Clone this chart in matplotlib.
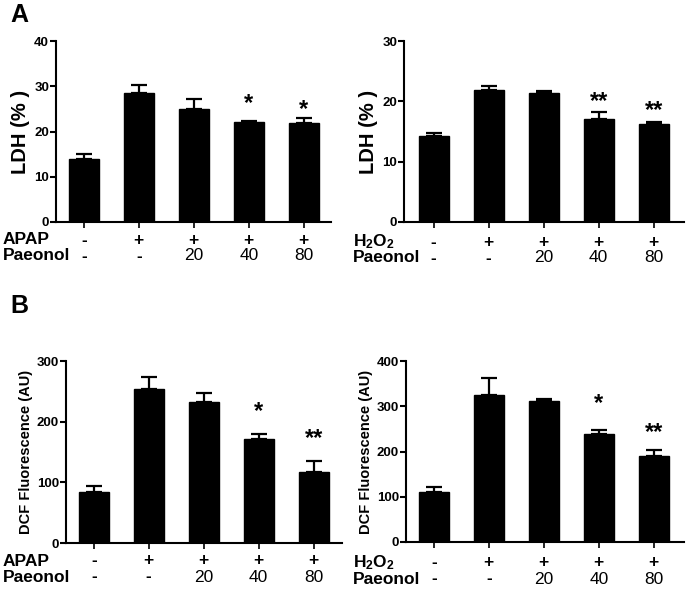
import matplotlib
matplotlib.use("Agg")
import matplotlib.pyplot as plt
import matplotlib.transforms as mtransforms
import numpy as np

plt.rcParams['font.family'] = ['Liberation Sans', 'DejaVu Sans']
plt.rcParams['mathtext.fontset'] = 'custom'
plt.rcParams['mathtext.rm'] = 'Liberation Sans:bold'
plt.rcParams['mathtext.bf'] = 'Liberation Sans:bold'
plt.rcParams['mathtext.it'] = 'Liberation Sans:bold:italic'

# ---- data ----
groups = ["1", "2", "3", "4", "5"]
inducer_row = ["-", "+", "+", "+", "+"]
paeonol_row = ["-", "-", "20", "40", "80"]

ldh_apap = [14.0, 28.6, 24.9, 22.1, 21.8]
ldh_apap_err = [1.0, 1.6, 2.3, 0.3, 1.1]
ldh_apap_sig = ["", "", "", "*", "*"]
ldh_apap_sig_y = [0, 0, 0, 27.1, 25.8]

ldh_h2o2 = [14.2, 21.9, 21.3, 17.1, 16.3]
ldh_h2o2_err = [0.5, 0.7, 0.45, 1.2, 0.35]
ldh_h2o2_sig = ["", "", "", "**", "**"]
ldh_h2o2_sig_y = [0, 0, 0, 20.6, 19.1]

dcf_apap = [84, 254, 232, 172, 117]
dcf_apap_err = [10, 20, 16, 8, 18]
dcf_apap_sig = ["", "", "", "*", "**"]
dcf_apap_sig_y = [0, 0, 0, 223, 178]

dcf_h2o2 = [111, 325, 312, 239, 191]
dcf_h2o2_err = [11, 37, 5, 8, 12]
dcf_h2o2_sig = ["", "", "", "*", "**"]
dcf_h2o2_sig_y = [0, 0, 0, 314, 250]

W, H = 686, 591
fig = plt.figure(figsize=(W / 100, H / 100), dpi=100)

STAR_FS = 17
ROW_FS = 12.5


def add_ax(l, r, t, b):
    return fig.add_axes([l / W, 1 - b / H, (r - l) / W, (b - t) / H])


def panel(ax, vals, errs, sig, sig_y, ymax, ystep, ylabel, ylab_size, xlim,
          inducer_name, name_x, row_y):
    x = np.arange(len(vals))
    ax.bar(x, vals, width=0.545, color='black', edgecolor='black', zorder=2)
    ax.errorbar(x, vals, yerr=[np.zeros(len(errs)), errs], fmt='none',
                ecolor='black', elinewidth=1.6, capsize=5.5, capthick=1.6, zorder=1)
    star_tr = mtransforms.offset_copy(ax.transData, fig=fig,
                                      y=-0.44 * STAR_FS, units='points')
    for xi, s, sy in zip(x, sig, sig_y):
        if s:
            ax.text(xi, sy, s, ha='center', va='baseline', transform=star_tr,
                    fontsize=STAR_FS, fontweight='bold')
    ax.set_xlim(*xlim)
    ax.set_ylim(0, ymax)
    ticks = np.arange(0, ymax + 0.001, ystep)
    ax.set_yticks(ticks)
    ax.set_yticklabels([f"{int(v)}" for v in ticks], fontsize=9.5, fontweight='bold')
    ax.set_xticks(x)
    ax.set_xticklabels([])
    for sp in ['top', 'right']:
        ax.spines[sp].set_visible(False)
    for sp in ['left', 'bottom']:
        ax.spines[sp].set_linewidth(1.5)
    ax.tick_params(axis='y', direction='out', length=4, width=1.5, pad=1)
    ax.tick_params(axis='x', direction='out', length=4, width=1.2)
    ax.set_ylabel(ylabel, fontsize=ylab_size, fontweight='bold', labelpad=3)
    # rows of treatment labels
    tr = ax.get_xaxis_transform()
    bbox = ax.get_position()
    ax_top_px = (1 - bbox.y1) * H
    ax_bot_px = (1 - bbox.y0) * H
    hpx = ax_bot_px - ax_top_px
    r1 = (ax_bot_px - row_y[0]) / hpx
    r2 = (ax_bot_px - row_y[1]) / hpx
    for xi, a, p in zip(x, inducer_row, paeonol_row):
        ax.text(xi, r1, a, transform=tr, ha='center', va='center',
                fontsize=ROW_FS, fontweight='bold', clip_on=False)
        ax.text(xi, r2, p, transform=tr, ha='center', va='center',
                fontsize=ROW_FS, fontweight='bold' if p in "+-" else 'normal',
                clip_on=False)
    fig.text(name_x / W, 1 - row_y[0] / H, inducer_name, ha='left', va='center',
             fontsize=ROW_FS, fontweight='bold')
    fig.text(name_x / W, 1 - row_y[1] / H, "Paeonol", ha='left', va='center',
             fontsize=ROW_FS, fontweight='bold')


axA1 = add_ax(56, 331, 41, 222)
panel(axA1, ldh_apap, ldh_apap_err, ldh_apap_sig, ldh_apap_sig_y, 40, 10,
      "LDH (% )", 14.5, (-0.505, 4.495), "APAP", 3, (240, 256))

axA2 = add_ax(404, 684, 41, 222)
panel(axA2, ldh_h2o2, ldh_h2o2_err, ldh_h2o2_sig, ldh_h2o2_sig_y, 30, 10,
      "LDH (% )", 14.5, (-0.54, 4.55), r"H$_\mathrm{2}$O$_\mathrm{2}$", 353, (242, 258))

axB1 = add_ax(66, 342, 361, 543)
panel(axB1, dcf_apap, dcf_apap_err, dcf_apap_sig, dcf_apap_sig_y, 300, 100,
      "DCF Fluorescence (AU)", 10.5, (-0.505, 4.515), "APAP", 3, (561, 577))

axB2 = add_ax(406, 684, 361, 542)
panel(axB2, dcf_h2o2, dcf_h2o2_err, dcf_h2o2_sig, dcf_h2o2_sig_y, 400, 100,
      "DCF Fluorescence (AU)", 10.5, (-0.505, 4.55), r"H$_\mathrm{2}$O$_\mathrm{2}$", 353, (563, 579))

fig.text(10 / W, 1 - 15 / H, "A", fontsize=18, fontweight='bold', ha='left', va='center')
fig.text(10 / W, 1 - 306 / H, "B", fontsize=18, fontweight='bold', ha='left', va='center')

fig.savefig("out.png", dpi=100)
